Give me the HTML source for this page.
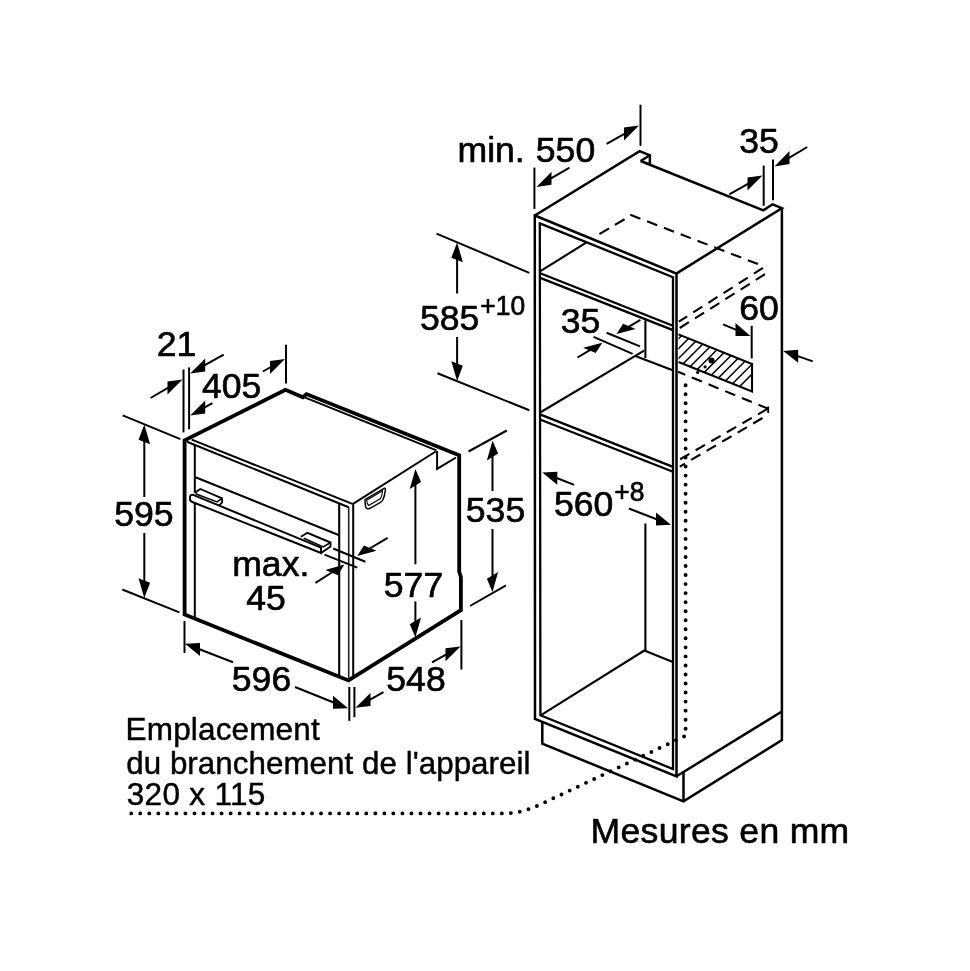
<!DOCTYPE html>
<html lang="fr">
<head>
<meta charset="utf-8">
<title>Mesures en mm</title>
<style>
html,body{margin:0;padding:0;background:#fff;}
body{width:970px;height:971px;overflow:hidden;}
svg{display:block;will-change:transform;filter:grayscale(1);}
svg text{font-family:"Liberation Sans",sans-serif;fill:#000;stroke:#000;stroke-linejoin:round;}
</style>
</head>
<body>
<svg width="970" height="971" viewBox="0 0 970 971" stroke="#000" fill="none" stroke-linecap="butt" stroke-linejoin="miter">
<rect x="0" y="0" width="970" height="971" fill="#fff" stroke="none"/>
<path d="M184.6 614.5 L184.6 440.3 L285.5 389.8 L302.8 397.2 L306.5 394.1 L459.2 455.3 L459.2 571.8 L460.9 577 L460.9 610.2 L348.5 680.4 L184.6 614.5 Z" stroke-width="3.8" fill="none"/>
<line x1="303.4" y1="396.9" x2="436.5" y2="450.4" stroke-width="2.0"/>
<path d="M437.1 450.9 L437.1 468.9 L456 457.5" stroke-width="2.0" fill="none"/>
<line x1="353" y1="503.9" x2="435.7" y2="451.5" stroke-width="2.0"/>
<line x1="191.7" y1="439.6" x2="353" y2="504.1" stroke-width="2.0"/>
<line x1="187" y1="441.8" x2="348.7" y2="507.2" stroke-width="2.0"/>
<line x1="194.8" y1="444.4" x2="194.8" y2="493" stroke-width="2.0"/>
<line x1="194.8" y1="502.5" x2="194.8" y2="618" stroke-width="2.0"/>
<line x1="339.2" y1="503.2" x2="339.2" y2="676.6" stroke-width="2.1"/>
<line x1="348.7" y1="507" x2="348.7" y2="680.4" stroke-width="1.6" stroke="#222"/>
<line x1="353.2" y1="503.9" x2="353.2" y2="677.5" stroke-width="2.0"/>
<line x1="195.5" y1="477.3" x2="339.2" y2="535.2" stroke-width="2.0"/>
<path d="M321 547.6 L193.2 494.9 Q190 494.3 190 497.4 L190 499.3 Q190 501.2 192.3 502 L321 553 Z" stroke-width="2" fill="#fff"/>
<path d="M195 492.6 L200.3 489 L222.1 498.3 L222.1 502.3 L219.3 505.4" stroke-width="1.9" fill="none"/>
<path d="M195.5 493.8 L217 501.9 L222.1 498.3" stroke-width="1.6" fill="none"/>
<path d="M300.9 536.8 L307.4 532.8 L330.5 542.5 L330.5 546.5 L321.1 553" stroke-width="1.9" fill="none"/>
<path d="M303.8 538.2 L323.3 546.9 L330.5 542.5" stroke-width="1.6" fill="none"/>
<path d="M365 499.6 L384 488.4 Q385.7 487.5 385.4 489.6 Q384.8 496 382.8 500 Q382 501.4 380 502.6 L370 508.3 Q366.5 509.9 365.6 506.5 Q365 503 365 499.6 Z" stroke-width="1.5" fill="none"/>
<path d="M366.7 500.3 L382.6 490.7 Q382.2 495.5 380.6 498.6 L368.6 505.6 Q367 504 366.7 500.3 Z" stroke-width="1.1" fill="none"/>
<line x1="183.5" y1="369.5" x2="183.5" y2="432.4" stroke-width="2.0"/>
<line x1="189.1" y1="367.4" x2="189.1" y2="429.3" stroke-width="2.0"/>
<line x1="150.50" y1="398.00" x2="169.23" y2="387.11" stroke-width="2.0"/>
<polygon points="182.50,379.40 167.50,381.62 167.50,394.62" fill="#000" stroke="none"/>
<line x1="223.70" y1="354.60" x2="203.46" y2="365.96" stroke-width="2.0"/>
<polygon points="190.20,373.40 205.20,358.48 205.20,371.48" fill="#000" stroke="none"/>
<line x1="212.40" y1="403.10" x2="203.45" y2="408.10" stroke-width="2.0"/>
<polygon points="190.20,415.50 205.20,400.62 205.20,413.62" fill="#000" stroke="none"/>
<line x1="262.90" y1="371.50" x2="271.74" y2="366.50" stroke-width="2.0"/>
<polygon points="285.00,359.00 270.00,360.98 270.00,373.98" fill="#000" stroke="none"/>
<line x1="286" y1="344.7" x2="286" y2="383.5" stroke-width="2.0"/>
<line x1="122.7" y1="415.3" x2="180.4" y2="439.2" stroke-width="2.0"/>
<line x1="122.3" y1="589.5" x2="179.4" y2="612.4" stroke-width="2.0"/>
<line x1="144.30" y1="497.00" x2="144.30" y2="440.10" stroke-width="2.0"/>
<polygon points="144.30,424.50 138.52,439.86 150.08,444.34" fill="#000" stroke="none"/>
<line x1="144.30" y1="533.00" x2="144.30" y2="582.40" stroke-width="2.0"/>
<polygon points="144.30,598.00 138.52,578.16 150.08,582.64" fill="#000" stroke="none"/>
<line x1="184.5" y1="621" x2="184.5" y2="653" stroke-width="2.0"/>
<line x1="233.00" y1="662.30" x2="198.14" y2="648.79" stroke-width="2.0"/>
<polygon points="185.00,643.70 200.00,643.01 200.00,656.01" fill="#000" stroke="none"/>
<line x1="295.00" y1="687.00" x2="334.86" y2="703.02" stroke-width="2.0"/>
<polygon points="348.00,708.30 333.00,695.77 333.00,708.77" fill="#000" stroke="none"/>
<line x1="349.3" y1="687" x2="349.3" y2="720.9" stroke-width="2.0"/>
<line x1="354.4" y1="687" x2="354.4" y2="717.2" stroke-width="2.0"/>
<line x1="383.50" y1="692.20" x2="368.75" y2="700.42" stroke-width="2.0"/>
<polygon points="355.50,707.80 370.50,692.94 370.50,705.94" fill="#000" stroke="none"/>
<line x1="432.00" y1="662.30" x2="447.25" y2="653.85" stroke-width="2.0"/>
<polygon points="460.50,646.50 445.50,648.32 445.50,661.32" fill="#000" stroke="none"/>
<line x1="461.4" y1="620" x2="461.4" y2="669.5" stroke-width="2.0"/>
<line x1="415.40" y1="564.30" x2="415.40" y2="483.50" stroke-width="2.0"/>
<polygon points="415.40,468.90 409.77,488.95 421.03,482.05" fill="#000" stroke="none"/>
<line x1="415.40" y1="601.40" x2="415.40" y2="622.90" stroke-width="2.0"/>
<polygon points="415.40,637.50 409.77,624.35 421.03,617.45" fill="#000" stroke="none"/>
<line x1="468.5" y1="451.5" x2="506.8" y2="430.5" stroke-width="2.0"/>
<line x1="470" y1="606" x2="506" y2="585.4" stroke-width="2.0"/>
<line x1="492.50" y1="491.00" x2="492.50" y2="455.00" stroke-width="2.0"/>
<polygon points="492.50,440.40 486.87,460.45 498.13,453.55" fill="#000" stroke="none"/>
<line x1="492.50" y1="529.00" x2="492.50" y2="577.40" stroke-width="2.0"/>
<polygon points="492.50,592.00 486.87,578.85 498.13,571.95" fill="#000" stroke="none"/>
<line x1="333.2" y1="548.5" x2="365.4" y2="561.7" stroke-width="2.0"/>
<line x1="324.5" y1="554.6" x2="357.3" y2="567.6" stroke-width="2.0"/>
<line x1="387.60" y1="537.90" x2="368.48" y2="549.26" stroke-width="2.0"/>
<polygon points="357.30,555.90 363.93,545.61 376.47,550.87" fill="#000" stroke="none"/>
<line x1="315.50" y1="582.90" x2="333.34" y2="571.50" stroke-width="2.0"/>
<polygon points="344.30,564.50 325.39,569.94 337.93,575.21" fill="#000" stroke="none"/>
<path d="M534.8 215.5 L676.5 273.6 L676.5 776.3 L535 719 Z" stroke-width="2.5" fill="none"/>
<path d="M539.8 223.4 L673 277.2 L673 769 L540.4 715.3 Z" stroke-width="2.3" fill="none"/>
<path d="M534.8 215.5 L639.6 151.1 L649.9 155.3 L649.9 164.5 L640.6 161 L763.3 210.3 L772.6 204.3 L781.9 208.2 L676.3 273.6" stroke-width="2.5" fill="none"/>
<path d="M640.6 161 L649.9 155.3" stroke-width="2.5" fill="none"/>
<path d="M781.9 208.2 L781.9 740 L683.5 801.4 L542.3 743.7 L542.3 722" stroke-width="2.5" fill="none"/>
<line x1="676.5" y1="776.3" x2="781.9" y2="711.5" stroke-width="2.5"/>
<line x1="683.5" y1="772" x2="683.5" y2="801.4" stroke-width="2.5"/>
<line x1="540.2" y1="273.3" x2="673" y2="325.7" stroke-width="2.3"/>
<line x1="540.2" y1="277.9" x2="673" y2="330.1" stroke-width="2.3"/>
<line x1="540.4" y1="271.1" x2="586.2" y2="242.7" stroke-width="2.1"/>
<line x1="540.6" y1="414.6" x2="672.4" y2="466.6" stroke-width="2.3"/>
<line x1="540.6" y1="419.7" x2="672.4" y2="471.5" stroke-width="2.3"/>
<line x1="541" y1="412" x2="644.1" y2="350.7" stroke-width="2.1"/>
<line x1="645.4" y1="320.4" x2="645.4" y2="358.1" stroke-width="2.1"/>
<line x1="636" y1="356.3" x2="672" y2="369.9" stroke-width="2.1"/>
<path d="M540.6 715.3 L644.3 650.5 L672.2 661.7" stroke-width="2.1" fill="none"/>
<line x1="645.4" y1="523.5" x2="645.4" y2="650.5" stroke-width="2.1"/>
<line x1="599.4" y1="234.1" x2="625" y2="219" stroke-width="2.1" stroke-dasharray="11.2 6.8"/>
<line x1="630.3" y1="214.8" x2="763" y2="266" stroke-width="2.1" stroke-dasharray="10.8 7.2"/>
<line x1="763" y1="267.9" x2="678.8" y2="321.7" stroke-width="2.1" stroke-dasharray="10.8 7.2"/>
<line x1="765" y1="274.2" x2="678.8" y2="328.6" stroke-width="2.1" stroke-dasharray="10.8 7.2"/>
<line x1="678" y1="371.8" x2="768.5" y2="408.9" stroke-width="2.1" stroke-dasharray="10.8 7.2" stroke-dashoffset="3"/>
<line x1="767.4" y1="408.9" x2="679.8" y2="459.4" stroke-width="2.1" stroke-dasharray="10.8 7.2"/>
<line x1="762.5" y1="418" x2="679.8" y2="466.6" stroke-width="2.1" stroke-dasharray="10.8 7.2"/>
<defs><clipPath id="hc"><polygon points="678.5,334.4 752,364 752,391.4 678.5,362"/></clipPath></defs>
<path d="M587.5 400 L667.5 320 M597.4 400 L677.4 320 M607.3 400 L687.3 320 M617.2 400 L697.2 320 M627.1 400 L707.1 320 M637.0 400 L717.0 320 M646.9 400 L726.9 320 M656.8 400 L736.8 320 M666.7 400 L746.7 320 M676.6 400 L756.6 320 M686.5 400 L766.5 320 M696.4 400 L776.4 320 M706.3 400 L786.3 320 M716.2 400 L796.2 320 M726.1 400 L806.1 320" stroke-width="1.5" clip-path="url(#hc)"/>
<path d="M678.5 334.4 L752 364 L752 391.4 L678.5 362" stroke-width="2.1" fill="none"/>
<line x1="768.2" y1="406.5" x2="768.2" y2="413" stroke-width="1.8"/>
<circle cx="711.5" cy="360.6" r="3" fill="#000" stroke="none"/>
<circle cx="705.1" cy="366.8" r="1.6" fill="#000" stroke="none"/>
<circle cx="697.7" cy="372.4" r="1.6" fill="#000" stroke="none"/>
<line x1="685.6" y1="385.2" x2="685.6" y2="730" stroke-width="3.9" stroke-dasharray="0 9.04" stroke-linecap="round"/>
<path d="M131.2 813.4 H505 Q522 813.2 540 804.6 L685.5 735.8" stroke-width="3.9" stroke-dasharray="0 9.04" stroke-linecap="round" fill="none"/>
<line x1="534.4" y1="167.6" x2="534.4" y2="208.9" stroke-width="2.0"/>
<line x1="569.50" y1="167.60" x2="549.78" y2="179.20" stroke-width="2.0"/>
<polygon points="536.50,187.00 551.50,171.68 551.50,184.68" fill="#000" stroke="none"/>
<line x1="640.5" y1="104.7" x2="640.5" y2="145.8" stroke-width="2.0"/>
<line x1="606.60" y1="143.90" x2="625.74" y2="133.09" stroke-width="2.0"/>
<polygon points="639.00,125.60 624.00,127.57 624.00,140.57" fill="#000" stroke="none"/>
<line x1="763.7" y1="165.6" x2="763.7" y2="205.8" stroke-width="2.0"/>
<line x1="773" y1="159.4" x2="773" y2="200.2" stroke-width="2.0"/>
<line x1="729.30" y1="194.40" x2="749.24" y2="183.05" stroke-width="2.0"/>
<polygon points="762.50,175.50 747.50,177.54 747.50,190.54" fill="#000" stroke="none"/>
<line x1="807.20" y1="147.00" x2="787.78" y2="158.58" stroke-width="2.0"/>
<polygon points="774.50,166.50 789.50,151.06 789.50,164.06" fill="#000" stroke="none"/>
<line x1="436.5" y1="233.6" x2="529.3" y2="272.8" stroke-width="2.0"/>
<line x1="437.5" y1="373.2" x2="529.3" y2="410.3" stroke-width="2.0"/>
<line x1="457.10" y1="293.50" x2="457.10" y2="258.10" stroke-width="2.0"/>
<polygon points="457.10,242.50 451.32,257.86 462.88,262.34" fill="#000" stroke="none"/>
<line x1="457.10" y1="337.00" x2="457.10" y2="365.40" stroke-width="2.0"/>
<polygon points="457.10,381.00 451.32,361.16 462.88,365.64" fill="#000" stroke="none"/>
<line x1="606.6" y1="332.8" x2="640" y2="346.4" stroke-width="2.0"/>
<line x1="593.6" y1="336.9" x2="632.6" y2="353.8" stroke-width="2.0"/>
<line x1="640.40" y1="319.80" x2="627.68" y2="327.36" stroke-width="2.0"/>
<polygon points="616.50,334.00 623.13,323.71 635.67,328.97" fill="#000" stroke="none"/>
<line x1="577.50" y1="357.50" x2="591.14" y2="349.36" stroke-width="2.0"/>
<polygon points="602.30,342.70 583.15,347.76 595.69,353.02" fill="#000" stroke="none"/>
<line x1="574.20" y1="484.90" x2="555.44" y2="477.55" stroke-width="2.0"/>
<polygon points="542.30,472.40 557.30,471.78 557.30,484.78" fill="#000" stroke="none"/>
<line x1="628.90" y1="508.50" x2="657.87" y2="519.71" stroke-width="2.0"/>
<polygon points="671.00,524.80 656.00,512.49 656.00,525.49" fill="#000" stroke="none"/>
<line x1="723.10" y1="324.30" x2="737.34" y2="330.33" stroke-width="2.0"/>
<polygon points="750.50,335.90 735.50,323.05 735.50,336.05" fill="#000" stroke="none"/>
<line x1="751.7" y1="325.8" x2="751.7" y2="358.4" stroke-width="2.0"/>
<line x1="812.80" y1="361.40" x2="796.31" y2="355.66" stroke-width="2.0"/>
<polygon points="783.20,351.10 798.20,349.82 798.20,362.82" fill="#000" stroke="none"/>
<text transform="translate(176.5 356.2) scale(1.0 1.01)" font-size="35.6" text-anchor="middle" stroke-width="0.65">21</text>
<text transform="translate(231.6 397.6) scale(1.0 1.01)" font-size="35.6" text-anchor="middle" stroke-width="0.65">405</text>
<text transform="translate(143.9 526.1) scale(1.0 1.01)" font-size="35.6" text-anchor="middle" stroke-width="0.65">595</text>
<text transform="translate(232.2 576.4) scale(1.0 0.96)" font-size="35.6" text-anchor="start" stroke-width="0.65">max.</text>
<text transform="translate(266 609.8) scale(1.0 1.01)" font-size="35.6" text-anchor="middle" stroke-width="0.65">45</text>
<text transform="translate(261.5 691.2) scale(1.0 1.01)" font-size="35.6" text-anchor="middle" stroke-width="0.65">596</text>
<text transform="translate(416 691.2) scale(1.0 1.01)" font-size="35.6" text-anchor="middle" stroke-width="0.65">548</text>
<text transform="translate(413.5 596.7) scale(1.0 1.01)" font-size="35.6" text-anchor="middle" stroke-width="0.65">577</text>
<text transform="translate(495.5 522.2) scale(1.0 1.01)" font-size="35.6" text-anchor="middle" stroke-width="0.65">535</text>
<text transform="translate(457.5 162) scale(1.0 0.96)" font-size="35.6" text-anchor="start" stroke-width="0.65">min.</text>
<text transform="translate(565.5 162) scale(1.0 1.01)" font-size="35.6" text-anchor="middle" stroke-width="0.65">550</text>
<text transform="translate(759 152.8) scale(1.0 1.01)" font-size="35.6" text-anchor="middle" stroke-width="0.65">35</text>
<text transform="translate(420 329.9) scale(1.0 1.01)" font-size="35.6" text-anchor="start" stroke-width="0.65">585<tspan font-size="26.5" dy="-14.3" dx="0.8">+10</tspan></text>
<text transform="translate(580.5 333.0) scale(1.0 1.01)" font-size="35.6" text-anchor="middle" stroke-width="0.65">35</text>
<text transform="translate(759 320.4) scale(1.0 1.01)" font-size="35.6" text-anchor="middle" stroke-width="0.65">60</text>
<text transform="translate(554 515.6) scale(1.0 1.01)" font-size="35.6" text-anchor="start" stroke-width="0.65">560<tspan font-size="26.5" dy="-14.3" dx="0.8">+8</tspan></text>
<text transform="translate(125.6 739.6) scale(1.0 1.0)" font-size="31.5" text-anchor="start" stroke-width="0.45" letter-spacing="0.15">Emplacement</text>
<text transform="translate(126.2 773.6) scale(1.0 1.0)" font-size="31.3" text-anchor="start" stroke-width="0.45" letter-spacing="0.06">du branchement de l'appareil</text>
<text transform="translate(126.8 805.2) scale(1.0 1.0)" font-size="31.5" text-anchor="start" stroke-width="0.45" letter-spacing="0.3">320 x 115</text>
<text transform="translate(590.6 843.2) scale(1.0 1.0)" font-size="35.6" text-anchor="start" stroke-width="0.6" letter-spacing="0.3">Mesures en mm</text>
</svg>
</body>
</html>
